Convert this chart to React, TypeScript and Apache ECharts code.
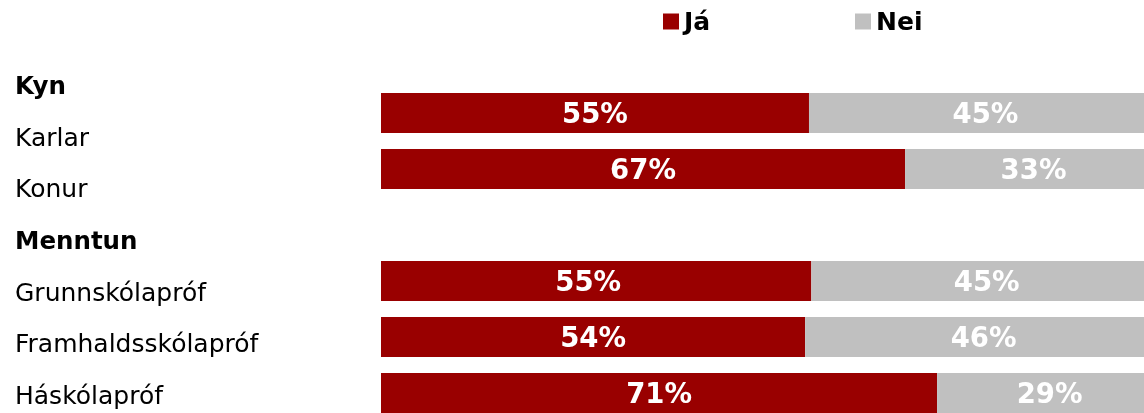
import React, { useEffect, useRef } from "react";
import * as echarts from "echarts";

const categories = ["Kyn", "Karlar", "Konur", "Menntun", "Grunnskólapróf", "Framhaldsskólapróf", "Háskólapróf"];
const headers = ["Kyn", "Menntun"];
const jaValues = [null, 54.8, 67.1, null, 55.1, 54.3, 71.2];
const neiValues = [null, 45.2, 32.9, null, 44.9, 45.7, 28.8];
const seriesNames = ["Já", "Nei"];

const FONT = "DejaVu Sans, Verdana, sans-serif";

export default function App() {
  const ref = useRef<HTMLDivElement>(null);
  useEffect(() => {
    if (!ref.current) return;
    const chart = echarts.init(ref.current, null, { renderer: "svg" });
    const labelStyle = {
      show: true,
      position: "inside",
      color: "#ffffff",
      fontFamily: FONT,
      fontWeight: "bold",
      fontSize: 27.5,
      formatter: (p: any) => (p.value == null ? "" : Math.round(p.value) + "%"),
    };
    const legendBase = {
      top: 9,
      padding: 0,
      icon: "rect",
      itemWidth: 16,
      itemHeight: 16,
      textStyle: { fontFamily: FONT, fontWeight: "bold", fontSize: 25, color: "#000" },
      selectedMode: false,
    };
    chart.setOption({
      animation: false,
      legend: [
        { ...legendBase, left: 663, data: [seriesNames[0]] },
        { ...legendBase, left: 855, data: [seriesNames[1]] },
      ],
      grid: [
        { left: 381, width: 781, top: 29, height: 392, containLabel: false, outerBoundsMode: "none" },
        { left: 15, width: 300, top: 59.7, height: 361.7, containLabel: false, outerBoundsMode: "none" },
      ],
      xAxis: [
        { type: "value", gridIndex: 0, min: 0, max: 100, show: false },
        { type: "value", gridIndex: 1, min: 0, max: 100, show: false },
      ],
      yAxis: [
        {
          type: "category",
          gridIndex: 0,
          data: categories,
          inverse: true,
          axisLine: { show: false },
          axisTick: { show: false },
          axisLabel: { show: false },
          splitLine: { show: false },
        },
        {
          type: "category",
          gridIndex: 1,
          data: categories,
          inverse: true,
          axisLine: { show: false },
          axisTick: { show: false },
          splitLine: { show: false },
          axisLabel: {
            margin: 0,
            align: "left",
            fontFamily: FONT,
            fontSize: 25,
            color: "#000",
            formatter: (v: string) => (headers.includes(v) ? `{h|${v}}` : v),
            rich: {
              h: { fontFamily: FONT, fontSize: 24.5, fontWeight: "bold", color: "#000" },
            },
          },
        },
      ],
      series: [
        {
          name: seriesNames[0],
          type: "bar",
          stack: "total",
          xAxisIndex: 0,
          yAxisIndex: 0,
          barWidth: 40,
          itemStyle: { color: "#990000" },
          label: labelStyle,
          data: jaValues.map((v, i) => (i === 4 ? { value: v, label: { offset: [-8, 0] } } : v)),
        },
        {
          name: seriesNames[1],
          type: "bar",
          stack: "total",
          xAxisIndex: 0,
          yAxisIndex: 0,
          barWidth: 40,
          itemStyle: { color: "#c0c0c0" },
          label: labelStyle,
          data: neiValues,
        },
      ],
    });
    return () => chart.dispose();
  }, []);
  return <div ref={ref} style={{ position: "fixed", left: 0, top: 0, width: 1144, height: 413 }} />;
}
